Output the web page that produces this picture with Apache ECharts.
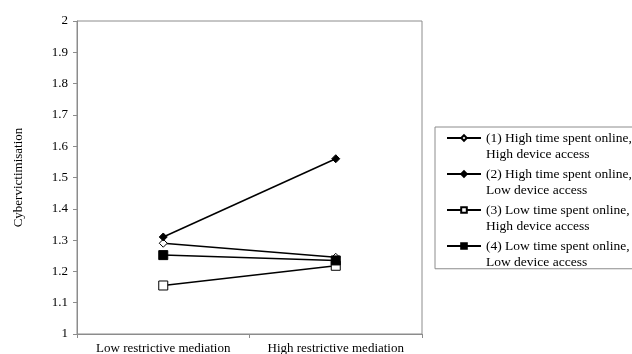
<!DOCTYPE html>
<html>
<head>
<meta charset="utf-8">
<script src="https://cdn.jsdelivr.net/npm/echarts@6/dist/echarts.min.js"></script>
<style>html,body{margin:0;padding:0;background:#fff}#c{width:632px;height:354px}</style>
</head>
<body>
<div id="c"></div>
<script>
const categories = ['Low restrictive mediation', 'High restrictive mediation'];
const seriesNames = [
  '(1) High time spent online,\nHigh device access',
  '(2) High time spent online,\nLow device access',
  '(3) Low time spent online,\nHigh device access',
  '(4) Low time spent online,\nLow device access'
];
const s1 = [1.29, 1.245];
const s2 = [1.31, 1.56];
const s3 = [1.155, 1.218];
const s4 = [1.252, 1.235];
const yTicks = [1, 1.1, 1.2, 1.3, 1.4, 1.5, 1.6, 1.7, 1.8, 1.9, 2];
const yAxisTitle = 'Cybervictimisation';

const FONT = '"Liberation Serif", "Times New Roman", serif';
const chart = echarts.init(document.getElementById('c'));

function mk(name, data, symbol, filled, size) {
  return {
    name: name, type: 'line', data: data, symbol: symbol, symbolSize: size,
    showAllSymbol: true, animation: false,
    lineStyle: { color: '#000', width: 1.5 },
    itemStyle: { color: filled ? '#000' : '#fff', borderColor: '#000', borderWidth: 1 },
    emphasis: { disabled: true }
  };
}

chart.setOption({
  animation: false,
  textStyle: { fontFamily: FONT },
  grid: { left: 77, top: 21, right: 210, bottom: 20, outerBoundsMode: 'none', containLabel: false,
    show: true, borderColor: '#8c8c8c', borderWidth: 1, backgroundColor: '#fff' },
  xAxis: {
    type: 'category', data: categories, boundaryGap: true,
    axisLine: { lineStyle: { color: '#8c8c8c', width: 1 } },
    axisTick: { show: true, length: 4, lineStyle: { color: '#8c8c8c' } },
    axisLabel: { color: '#000', fontFamily: FONT, fontSize: 13, margin: 8, interval: 0 },
    splitLine: { show: false }
  },
  yAxis: {
    type: 'value', min: yTicks[0], max: yTicks[yTicks.length - 1], interval: 0.1,
    name: yAxisTitle, nameLocation: 'middle', nameGap: 52, nameRotate: 90,
    nameTextStyle: { color: '#000', fontFamily: FONT, fontSize: 13 },
    axisLine: { show: true, lineStyle: { color: '#8c8c8c', width: 1 } },
    axisTick: { show: true, length: 4, lineStyle: { color: '#8c8c8c' } },
    axisLabel: { color: '#000', fontFamily: FONT, fontSize: 13, margin: 9,
      formatter: v => String(parseFloat(v.toFixed(1))) },
    splitLine: { show: false }
  },
  legend: {
    orient: 'vertical', left: 435, top: 127,
    itemWidth: 34, itemHeight: 7, itemGap: -13.5,
    padding: [-13.75, 200, -2, 11],
    borderColor: '#8c8c8c', borderWidth: 1,
    selectedMode: false,
    formatter: name => '\n' + name,
    textStyle: { color: '#000', fontFamily: FONT, fontSize: 13.5, lineHeight: 16.5 },
    data: seriesNames
  },
  series: [
    mk(seriesNames[0], s1, 'diamond', false, 8),
    mk(seriesNames[1], s2, 'diamond', true, 8),
    mk(seriesNames[2], s3, 'rect', false, 9),
    mk(seriesNames[3], s4, 'rect', true, 9)
  ]
});
</script>
</body>
</html>
